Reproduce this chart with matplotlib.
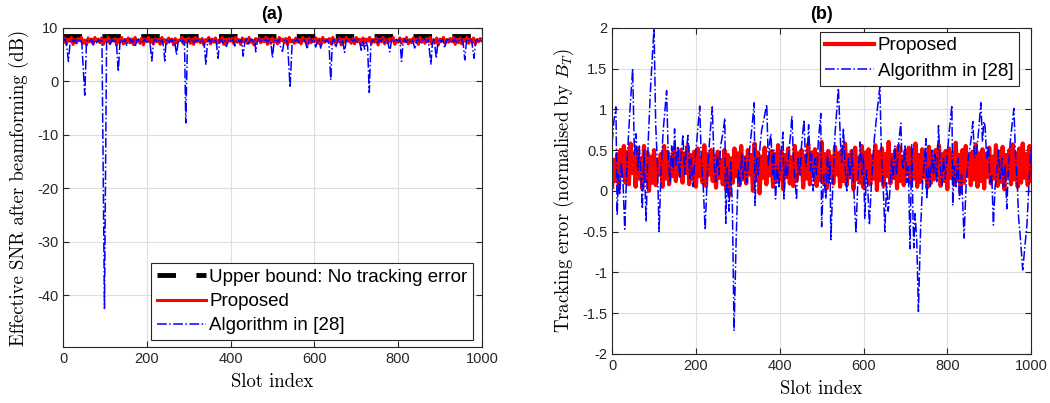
import numpy as np
import matplotlib
matplotlib.use("Agg")
from matplotlib import pyplot as plt
from matplotlib.ticker import FuncFormatter

# ---- data ----
# (a) effective SNR after beamforming (dB)
ub_slots = [0, 1000]
ub_snr = [8.4, 8.4]

prop_step = 4  # proposed curves sampled every 4 slots
prop_snr = [
    7.3, 8.1, 7.0, 7.9, 7.5, 8.2, 6.9, 7.8, 7.2, 8.0,
    7.6, 8.2, 7.1, 7.7, 6.8, 8.1, 7.4, 7.9, 7.0, 8.2,
    7.5, 7.9, 7.2, 8.1, 6.9, 7.8, 7.4, 8.2, 7.1, 7.7,
    7.6, 8.0, 6.8, 7.9, 7.3, 8.2, 7.0, 7.8, 7.5, 8.1,
    7.2, 7.9, 6.9, 8.2, 7.4, 7.7, 7.1, 8.1, 6.8, 7.9,
    7.5, 8.2, 7.2, 7.8, 7.0, 8.0, 7.4, 7.9, 6.9, 8.2,
    7.3, 7.8, 7.1, 8.1, 7.5, 7.9, 6.8, 8.0, 7.2, 7.7,
    7.6, 8.2, 7.0, 7.9, 7.3, 8.1, 7.1, 7.8, 6.9, 8.2,
    7.4, 7.9, 7.2, 8.0, 6.8, 7.8, 7.5, 8.2, 7.0, 7.9,
    7.3, 8.1, 7.1, 7.7, 7.4, 8.2, 6.9, 7.9, 7.2, 8.0,
    7.5, 8.0, 7.0, 8.2, 7.3, 7.8, 6.9, 8.1, 7.4, 7.9,
    7.1, 8.2, 7.3, 7.7, 6.8, 8.0, 7.5, 8.1, 7.2, 7.8,
    7.4, 8.2, 6.9, 7.9, 7.1, 8.1, 7.3, 7.8, 7.0, 8.2,
    7.6, 7.9, 7.2, 8.0, 6.8, 8.2, 7.4, 7.7, 7.1, 8.1,
    7.3, 7.8, 7.0, 8.2, 7.5, 7.9, 6.9, 8.1, 7.2, 7.8,
    7.4, 8.1, 7.1, 7.9, 6.9, 8.2, 7.3, 7.8, 7.5, 8.0,
    7.0, 8.2, 7.2, 7.7, 7.4, 8.1, 6.8, 7.9, 7.3, 8.2,
    7.5, 7.8, 7.1, 8.0, 7.0, 8.2, 7.4, 7.9, 6.9, 8.1,
    7.2, 7.9, 7.5, 8.2, 7.1, 7.8, 7.3, 8.1, 6.8, 7.9,
    7.4, 8.2, 7.0, 7.8, 7.2, 8.0, 7.5, 8.2, 6.9, 7.7,
    7.3, 8.1, 7.1, 7.9, 7.4, 8.2, 7.0, 7.8, 7.2, 8.1,
    7.5, 7.9, 6.9, 8.2, 7.3, 7.7, 7.1, 8.0, 7.4, 8.2,
    7.0, 7.8, 7.2, 8.1, 6.8, 7.9, 7.5, 8.2, 7.1, 7.8,
    7.3, 8.0, 7.4, 8.2, 6.9, 7.9, 7.2, 8.1, 7.0, 7.8,
    7.5, 8.2, 7.1, 7.9, 7.3, 8.1, 6.9, 7.8, 7.4, 8.0,
    7.6,
]

alg_a_slots = [
    0, 4, 8, 13, 17, 21, 25, 29, 33, 37, 41, 45, 52, 56, 60, 64, 68, 72, 76, 80,
    84, 88, 93, 99, 104, 108, 112, 116, 120, 124, 128, 132, 136, 140, 144, 148, 152, 156, 160, 164,
    168, 172, 176, 180, 184, 188, 192, 196, 200, 204, 208, 212, 216, 220, 224, 228, 232, 236, 240, 243,
    246, 250, 254, 258, 262, 266, 271, 275, 279, 283, 287, 290, 293, 297, 301, 305, 309, 313, 317, 321,
    325, 329, 333, 337, 341, 345, 349, 353, 357, 361, 365, 370, 374, 378, 382, 386, 390, 394, 398, 402,
    406, 410, 414, 418, 422, 426, 430, 434, 438, 442, 446, 450, 454, 458, 460, 464, 468, 472, 476, 480,
    484, 488, 492, 496, 500, 504, 508, 512, 516, 520, 524, 528, 532, 536, 542, 547, 551, 555, 559, 563,
    567, 571, 575, 579, 583, 587, 591, 595, 599, 603, 607, 611, 615, 619, 623, 627, 631, 635, 639, 643,
    647, 651, 655, 659, 663, 667, 672, 676, 680, 684, 688, 692, 696, 700, 704, 708, 712, 716, 720, 724,
    727, 731, 735, 739, 743, 747, 751, 755, 759, 763, 767, 771, 775, 780, 784, 788, 792, 796, 800, 804,
    808, 812, 816, 820, 824, 828, 832, 836, 840, 844, 848, 852, 856, 860, 864, 868, 872, 878, 882, 886,
    891, 895, 899, 903, 907, 911, 915, 919, 923, 927, 931, 935, 939, 943, 947, 951, 955, 959, 963, 967,
    971, 975, 981, 985, 989, 993, 997, 1000,
]
alg_a_snr = [
    7.6, 7.9, 7.2, 3.7, 7.3, 7.9, 7.4, 7.8, 7.1, 7.7, 7.9, 7.0, -2.6, 7.3, 7.8, 7.5, 7.9, 6.8, 7.6, 7.2,
    7.8, 7.5, 7.6, -42.5, 7.3, 7.8, 6.9, 7.7, 7.4, 7.9, 6.5, 1.8, 7.4, 7.8, 7.2, 7.9, 6.6, 7.5, 7.9, 7.3,
    7.7, 6.4, 7.6, 7.9, 7.2, 7.7, 7.4, 7.9, 7.3, 7.8, 6.9, 3.8, 7.4, 7.9, 7.5, 7.8, 7.2, 7.8, 6.5, 3.8,
    7.5, 7.9, 7.2, 7.8, 7.4, 7.9, 4.9, 7.5, 7.8, 7.1, 7.7, 7.3, -7.8, 7.2, 7.8, 7.4, 7.9, 7.2, 7.7, 7.5,
    7.9, 7.3, 7.8, 6.9, 3.2, 7.4, 7.9, 7.3, 7.8, 7.5, 7.9, 4.3, 7.6, 7.8, 7.2, 7.7, 6.5, 7.6, 7.9, 7.3,
    7.8, 6.6, 7.5, 7.9, 7.3, 7.8, 4.7, 7.4, 7.9, 6.7, 7.6, 7.9, 7.3, 7.8, 5.5, 7.6, 7.9, 7.2, 7.7, 7.5,
    7.9, 7.3, 7.8, 7.4, 4.4, 7.5, 7.9, 7.3, 7.8, 6.2, 5.6, 7.6, 7.9, 7.2, -1.2, 7.3, 7.8, 7.5, 7.9, 7.3,
    7.8, 7.5, 7.9, 7.2, 6.0, 7.6, 7.9, 7.4, 7.8, 6.4, 7.5, 7.9, 6.2, 7.6, 7.9, 7.3, 7.8, 7.0, 0.2, 7.4,
    7.9, 6.3, 7.5, 7.9, 7.3, 7.8, 5.4, 7.6, 7.9, 7.3, 7.8, 7.5, 7.9, 7.3, 7.8, 7.4, 5.8, 7.5, 6.0, 7.3,
    6.5, -2.1, 7.2, 7.8, 7.4, 7.9, 7.2, 7.8, 7.5, 7.9, 7.3, 7.8, 7.5, 5.5, 7.6, 7.9, 7.3, 7.8, 7.5, 7.9,
    3.7, 7.4, 7.9, 7.3, 7.8, 7.4, 7.9, 7.3, 6.0, 7.6, 7.9, 7.3, 7.8, 7.5, 7.9, 7.3, 7.8, 3.2, 7.3, 7.8,
    4.3, 7.5, 7.9, 7.3, 7.8, 6.2, 7.6, 7.9, 7.3, 7.8, 7.4, 7.9, 7.3, 7.8, 7.5, 7.9, 7.3, 4.0, 7.5, 7.9,
    7.3, 7.8, 4.3, 7.5, 7.9, 7.3, 7.8, 7.5,
]

# (b) tracking error normalised by B_T
prop_err = [
    0.05, 0.38, 0.12, 0.45, 0.02, 0.50, 0.18, 0.55, 0.10, 0.48,
    0.08, 0.58, 0.22, 0.45, 0.05, 0.52, 0.15, 0.40, 0.03, 0.55,
    0.12, 0.47, 0.00, 0.42, 0.10, 0.50, 0.07, 0.38, 0.20, 0.45,
    0.05, 0.55, 0.15, 0.48, 0.08, 0.42, 0.18, 0.52, 0.12, 0.45,
    0.20, 0.50, 0.10, 0.46, 0.22, 0.55, 0.08, 0.44, 0.15, 0.48,
    0.05, 0.52, 0.18, 0.40, 0.10, 0.56, 0.06, 0.45, 0.20, 0.50,
    0.12, 0.43, 0.04, 0.48, 0.16, 0.38, 0.08, 0.50, 0.02, 0.44,
    -0.05, 0.40, 0.10, 0.52, 0.18, 0.46, 0.07, 0.55, 0.14, 0.41,
    0.09, 0.50, 0.20, 0.44, 0.00, 0.58, 0.13, 0.47, -0.03, 0.42,
    0.16, 0.53, 0.08, 0.40, 0.19, 0.49, 0.05, 0.45, 0.11, 0.56,
    0.14, 0.48, 0.02, 0.44, 0.17, 0.52, 0.09, 0.41, 0.06, 0.55,
    0.12, 0.46, 0.21, 0.50, 0.04, 0.43, 0.15, 0.57, 0.08, 0.47,
    0.18, 0.51, 0.06, 0.44, 0.13, 0.60, 0.10, 0.45, 0.03, 0.49,
    0.16, 0.42, 0.09, 0.54, 0.20, 0.46, 0.05, 0.50, 0.12, 0.58,
    0.07, 0.44, 0.17, 0.49, 0.02, 0.53, 0.14, 0.40, 0.10, 0.55,
    0.04, 0.47, 0.19, 0.51, 0.08, 0.43, 0.15, 0.56, 0.01, 0.48,
    0.13, 0.52, 0.06, 0.45, 0.18, 0.60, 0.09, 0.44, 0.16, 0.50,
    0.03, 0.55, 0.12, 0.42, 0.07, 0.49, 0.20, 0.53, 0.10, 0.46,
    0.15, 0.58, 0.05, 0.44, 0.11, 0.51, 0.17, 0.47, 0.04, 0.54,
    0.09, 0.43, 0.14, 0.50, 0.19, 0.56, 0.06, 0.45, 0.12, 0.49,
    0.02, 0.52, 0.16, 0.46, 0.08, 0.59, 0.13, 0.44, -0.02, 0.50,
    0.10, 0.55, 0.18, 0.43, 0.07, 0.48, 0.14, 0.57, 0.05, 0.46,
    0.12, 0.51, 0.03, 0.45, 0.17, 0.53, 0.09, 0.42, 0.15, 0.56,
    0.06, 0.48, 0.11, 0.54, 0.02, 0.44, 0.19, 0.50, 0.08, 0.57,
    0.14, 0.46, 0.05, 0.52, 0.10, 0.58, 0.16, 0.45, 0.07, 0.55,
    0.12,
]

alg_b_slots = [
    0, 4, 9, 12, 15, 18, 22, 26, 30, 36, 42, 49, 53, 57, 61, 65, 69, 72, 76, 81,
    86, 92, 100, 104, 108, 112, 117, 122, 130, 134, 138, 142, 146, 149, 153, 157, 161, 165, 169, 173,
    177, 181, 185, 189, 193, 197, 201, 205, 209, 213, 217, 222, 227, 233, 239, 243, 247, 251, 255, 259,
    264, 269, 271, 275, 279, 283, 287, 291, 296, 301, 305, 309, 313, 317, 321, 325, 329, 335, 339, 341,
    345, 349, 353, 357, 363, 369, 373, 376, 379, 383, 386, 390, 394, 398, 402, 408, 410, 414, 418, 422,
    426, 429, 433, 437, 440, 444, 448, 452, 458, 462, 466, 469, 473, 476, 480, 484, 488, 492, 498, 500,
    505, 510, 514, 518, 520, 522, 527, 532, 540, 545, 548, 552, 556, 560, 564, 568, 572, 576, 582, 587,
    592, 596, 600, 603, 607, 610, 614, 620, 626, 633, 639, 643, 647, 651, 655, 659, 663, 667, 671, 675,
    679, 684, 689, 692, 695, 699, 703, 707, 711, 715, 718, 720, 723, 727, 731, 736, 741, 745, 749, 751,
    755, 759, 763, 767, 771, 775, 779, 783, 787, 791, 795, 800, 805, 811, 813, 817, 821, 825, 829, 834,
    840, 845, 850, 856, 861, 865, 870, 875, 880, 884, 887, 890, 894, 898, 902, 906, 910, 914, 918, 922,
    926, 930, 934, 938, 942, 946, 951, 959, 963, 967, 970, 974, 980, 985, 990, 995, 999,
]
alg_b_err = [
    0.60, 0.85, 1.03, -0.30, 0.20, -0.05, 0.35, 0.10, -0.47, 0.40, 0.95, 1.50, 0.45, 0.70, 0.25, 0.55, 0.15, -0.22, 0.50, -0.38,
    0.60, 1.30, 2.00, 0.80, 0.35, -0.50, 0.30, 0.75, 1.23, 0.40, 0.10, 0.55, 0.25, 0.76, 0.30, 0.55, 0.15, 0.45, 0.69, 0.20,
    0.50, 0.68, 0.15, 0.40, 0.05, 0.35, 0.55, 0.80, 1.04, 0.35, 0.10, -0.48, 0.20, 0.65, 1.03, 0.40, 0.11, 0.45, 0.20, 0.55,
    0.70, 0.89, -0.40, 0.30, -0.25, 0.35, -0.20, -1.72, -0.60, 0.27, 0.05, 0.45, 0.15, 0.40, 0.10, 0.35, 0.55, 0.85, 1.08, -0.18,
    0.40, 0.20, 0.55, 0.75, 0.90, 1.06, 0.30, 0.60, 0.70, 0.20, 0.50, -0.10, 0.30, 0.05, 0.40, 0.72, -0.10, 0.35, 0.15, 0.50,
    0.70, 0.92, 0.35, 0.10, -0.11, 0.40, 0.20, 0.55, 0.87, 0.30, 0.50, 0.81, 0.25, 0.45, 0.00, 0.40, 0.20, 0.60, 0.95, -0.44,
    0.20, -0.10, 0.45, 0.10, 0.35, -0.60, 0.10, 0.70, 1.26, 0.60, 0.35, 0.77, 0.30, 0.00, 0.40, 0.15, 0.50, 0.10, -0.52, 0.20,
    0.60, 0.20, 0.45, -0.34, 0.25, 0.05, -0.42, 0.20, 0.65, 1.00, 1.28, 0.40, 0.05, -0.50, 0.10, -0.25, 0.00, 0.40, 0.15, 0.55,
    0.20, 0.60, 0.83, 0.35, 0.27, 0.55, 0.10, 0.30, -0.71, 0.58, -0.30, -0.70, -0.28, -0.60, -1.48, -0.50, 0.10, 0.35, 0.64, -0.10,
    0.30, 0.05, 0.50, 0.20, 0.45, 0.10, 0.80, 0.30, 0.07, 0.40, 0.15, 0.45, 0.75, 1.05, -0.18, 0.30, 0.05, 0.40, -0.10, 0.20,
    -0.58, 0.10, 0.40, 0.60, 0.85, 0.40, 0.48, 0.75, 1.08, 0.60, 0.85, 0.80, 0.40, 0.55, 0.10, 0.20, -0.42, 0.05, 0.23, 0.50,
    0.15, 0.40, 0.05, 0.31, -0.22, 0.30, 0.65, 1.01, 0.40, 0.10, -0.32, -0.55, -0.97, -0.70, -0.42, 0.10, 0.50,
]

prop_slots = np.arange(len(prop_snr)) * prop_step

# ---- style (MATLAB look) ----
tick_font = 'Liberation Sans'
label_font = 'cmr10'
plt.rcParams['mathtext.fontset'] = 'cm'
plt.rcParams['axes.unicode_minus'] = False
axcol = (0.15, 0.15, 0.15)

fig = plt.figure(figsize=(10.5, 4.03), dpi=100)
ax1 = fig.add_axes([0.060, 0.139, 0.399, 0.792])
ax2 = fig.add_axes([0.583, 0.122, 0.399, 0.809])

def style(ax):
    ax.grid(True, color=(0.87, 0.87, 0.87), linewidth=0.8)
    ax.set_axisbelow(True)
    ax.tick_params(direction='in', top=True, right=True, length=4, width=0.8,
                   colors=axcol, labelsize=10.5)
    for t in ax.get_xticklabels() + ax.get_yticklabels():
        t.set_fontfamily(tick_font)
    for s in ax.spines.values():
        s.set_color(axcol)
        s.set_linewidth(0.8)

fmt = FuncFormatter(lambda v, p: ('%g' % v))

# (a)
ax1.plot(ub_slots, ub_snr, color='k', linewidth=3.5, linestyle=(0, (3.8, 4.2)),
         label='Upper bound: No tracking error')
ax1.plot(prop_slots, prop_snr, color='r', linewidth=2.2, label='Proposed')
ax1.plot(alg_a_slots, alg_a_snr, color='b', linewidth=1.1, linestyle='-.',
         label='Algorithm in [28]')
ax1.set_xlim(0, 1000)
ax1.set_ylim(-49.7, 10)
ax1.set_xticks(np.arange(0, 1001, 200))
ax1.set_yticks(np.arange(-40, 11, 10))
ax1.yaxis.set_major_formatter(fmt)
style(ax1)
ax1.set_title('(a)', fontfamily=tick_font, fontweight='bold', fontsize=13, pad=6)
ax1.set_xlabel('Slot index', fontfamily=label_font, fontsize=13.5, labelpad=5)
ax1.set_ylabel('Effective SNR after beamforming (dB)', fontfamily=label_font, fontsize=13.5, labelpad=6)
leg1 = ax1.legend(loc='lower right', bbox_to_anchor=(0.979, 0.022),
                  prop={'family': tick_font, 'size': 13.5},
                  fancybox=False, edgecolor=axcol, framealpha=1,
                  handlelength=2.6, handletextpad=0.2, borderpad=0.3,
                  labelspacing=0.38, borderaxespad=0.0)
leg1.get_frame().set_linewidth(0.8)

# (b)
ax2.plot(prop_slots, prop_err, color='r', linewidth=3.0, label='Proposed')
ax2.plot(alg_b_slots, alg_b_err, color='b', linewidth=1.1, linestyle='-.',
         label='Algorithm in [28]')
ax2.set_xlim(0, 1000)
ax2.set_ylim(-2, 2)
ax2.set_xticks(np.arange(0, 1001, 200))
ax2.set_yticks(np.arange(-2, 2.01, 0.5))
ax2.yaxis.set_major_formatter(fmt)
style(ax2)
ax2.set_title('(b)', fontfamily=tick_font, fontweight='bold', fontsize=13, pad=6)
ax2.set_xlabel('Slot index', fontfamily=label_font, fontsize=13.5, labelpad=5)
ax2.set_ylabel('Tracking error (normalised by $B_T$)', fontfamily=label_font, fontsize=13.5, labelpad=4)
leg2 = ax2.legend(loc='upper right', bbox_to_anchor=(0.971, 0.988),
                  prop={'family': tick_font, 'size': 13.5},
                  fancybox=False, edgecolor=axcol, framealpha=1,
                  handlelength=2.6, handletextpad=0.2, borderpad=0.3,
                  labelspacing=0.45, borderaxespad=0.0)
leg2.get_frame().set_linewidth(0.8)

fig.savefig('out.png', dpi=100)
